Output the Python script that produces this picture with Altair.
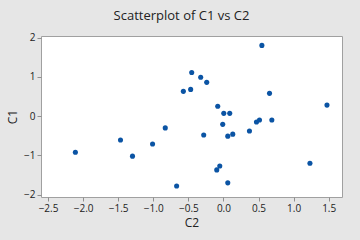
import altair as alt
import pandas as pd

c2 = [-0.571, -0.467, -0.452, -0.829, 0.548, -0.324, -0.238, 0.657, 1.476, -0.081,
      0.005, 0.09, -0.01, 0.471, 0.514, 0.69, 0.371, -0.281, 0.062, 0.133,
      1.233, -0.052, -0.095, 0.062, -2.11, -1.467, -1.296, -1.01, -0.667]
c1 = [0.63, 0.68, 1.11, -0.30, 1.80, 0.99, 0.86, 0.58, 0.28, 0.25,
      0.07, 0.07, -0.21, -0.15, -0.10, -0.10, -0.38, -0.48, -0.51, -0.46,
      -1.20, -1.27, -1.37, -1.70, -0.92, -0.61, -1.02, -0.71, -1.78]
x_ticks = [-2.5, -2.0, -1.5, -1.0, -0.5, 0.0, 0.5, 1.0, 1.5]
y_ticks = [-2, -1, 0, 1, 2]

df = pd.DataFrame({"C2": c2, "C1": c1})

font = "Open Sans"
axis_common = dict(
    grid=False, domain=False, tickColor="#909090", tickSize=4,
    labelFont=font, labelFontSize=10, labelColor="#222222",
    titleFont=font, titleFontSize=12, titleFontWeight="normal", titleColor="#222222",
)

chart = alt.Chart(df).mark_circle(size=26, opacity=1, color="#0b54a4").encode(
    x=alt.X("C2:Q", scale=alt.Scale(domain=[-2.6, 1.69], nice=False, zero=False),
            axis=alt.Axis(values=x_ticks, format=".1f", labelPadding=2, titlePadding=4, **axis_common)),
    y=alt.Y("C1:Q", scale=alt.Scale(domain=[-2.06, 2.04], nice=False, zero=False),
            axis=alt.Axis(values=y_ticks, format="d", labelPadding=2, titlePadding=4, **axis_common)),
).properties(
    width=301, height=161,
    title=alt.TitleParams("Scatterplot of C1 vs C2", font=font, fontSize=13,
                          fontWeight="normal", color="#222222", anchor="middle", dx=-10, offset=10),
    background="#e6e6e6",
    padding={"left": 41, "top": 36, "right": 18, "bottom": 43},
    autosize=alt.AutoSizeParams(type="none"),
).configure_view(fill="white", stroke="#a0a0a0", strokeWidth=1)

chart.save("out.html", embed_options={"renderer": "svg", "actions": False})
